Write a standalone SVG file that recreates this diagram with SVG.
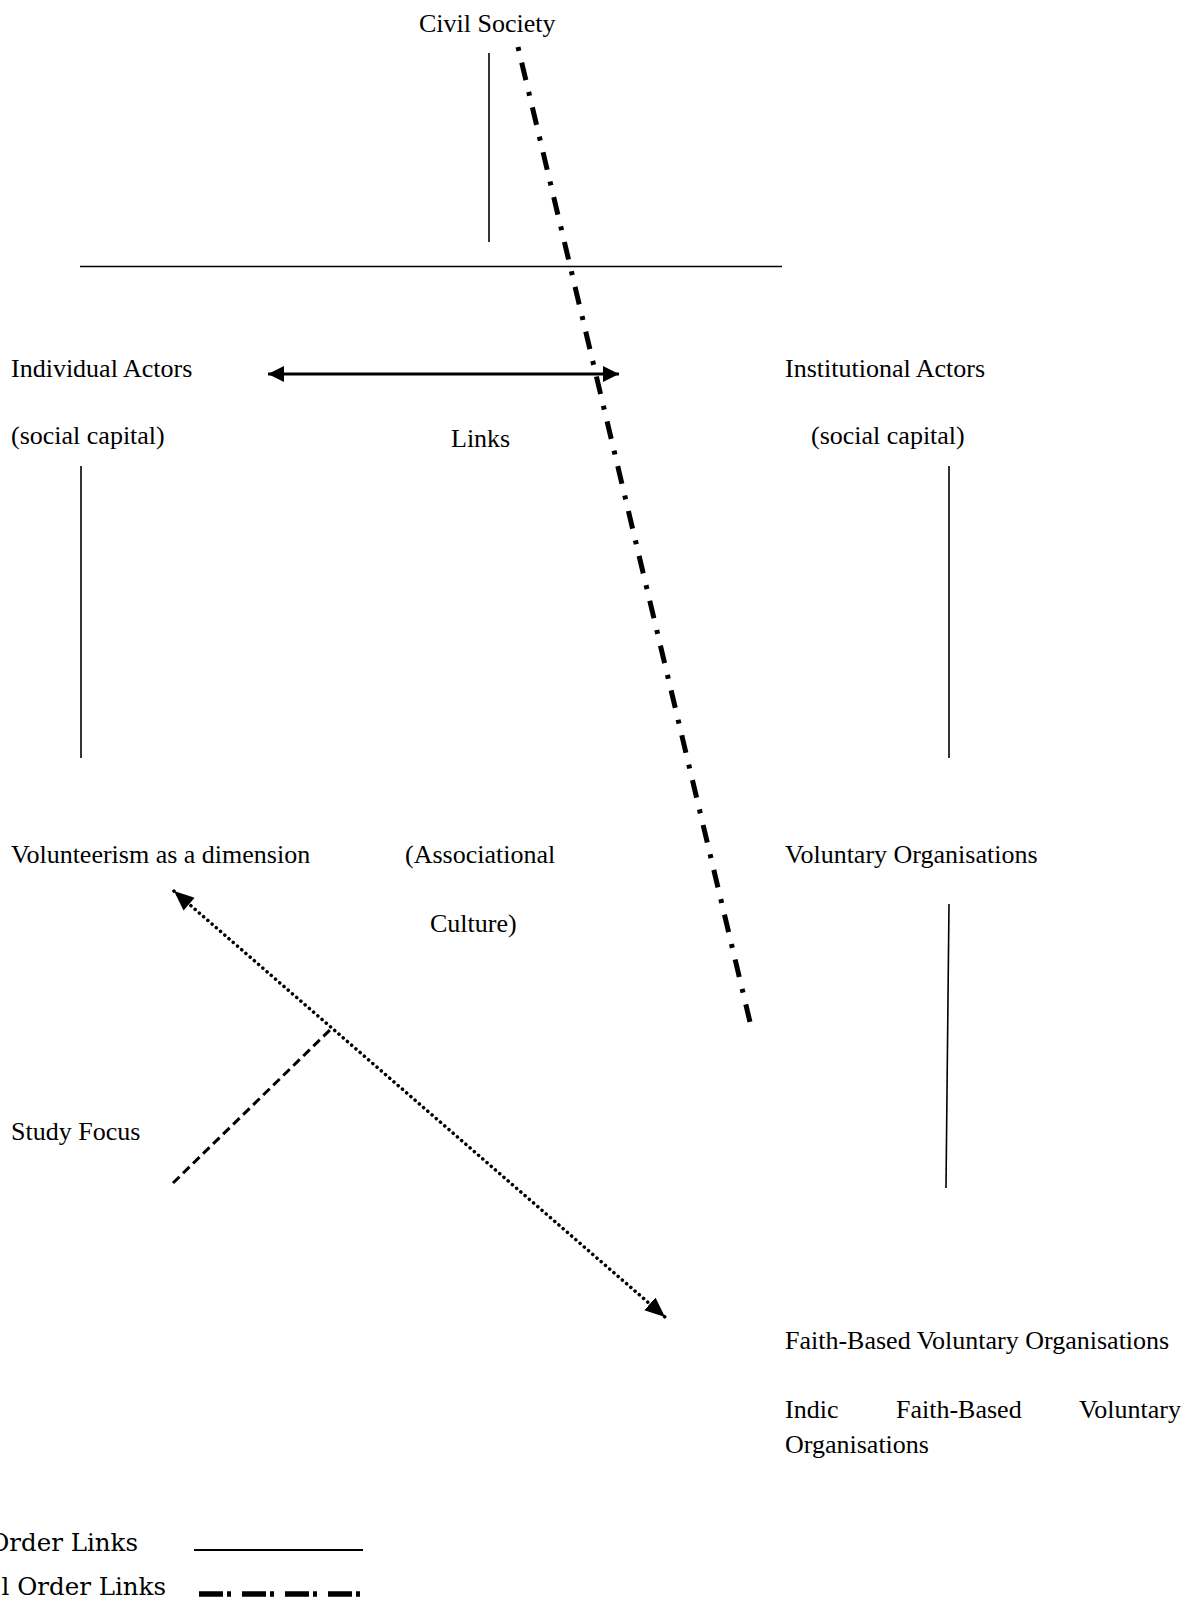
<svg xmlns="http://www.w3.org/2000/svg" width="1197" height="1602" viewBox="0 0 1197 1602">
<style>
  .t { font-family: "Liberation Serif", "Times New Roman", serif; font-size: 26px; fill: #000; }
  .lg { font-family: "DejaVu Serif", "Century Schoolbook", serif; font-size: 24.5px; fill: #000; }
  .solid { stroke: #000; stroke-width: 1.6; fill: none; }
  .dashdot { stroke: #000; stroke-width: 5; fill: none; stroke-dasharray: 4 12 18 12.1; }
  .dotted { stroke: #000; stroke-width: 3.5; fill: none; stroke-dasharray: 0.1 5.5; stroke-linecap: round; }
  .dashed { stroke: #000; stroke-width: 3; fill: none; stroke-dasharray: 9 5; }
</style>
<defs>
  <marker id="ahEnd" markerUnits="userSpaceOnUse" markerWidth="20" markerHeight="20" refX="16" refY="8" orient="auto">
    <path d="M0,0 L16,8 L0,16 Z" fill="#000"/>
  </marker>
  <marker id="ahStart" markerUnits="userSpaceOnUse" markerWidth="20" markerHeight="20" refX="0" refY="8" orient="auto">
    <path d="M16,0 L0,8 L16,16 Z" fill="#000"/>
  </marker>
  <marker id="bhEnd" markerUnits="userSpaceOnUse" markerWidth="22" markerHeight="20" refX="20" refY="8.5" orient="auto">
    <path d="M0,0 L20,8.5 L0,17 Z" fill="#000"/>
  </marker>
  <marker id="bhStart" markerUnits="userSpaceOnUse" markerWidth="22" markerHeight="20" refX="0" refY="8.5" orient="auto">
    <path d="M20,0 L0,8.5 L20,17 Z" fill="#000"/>
  </marker>
</defs>

<g id="connectors">
  <line class="solid" x1="489" y1="53" x2="489" y2="242"/>
  <line class="solid" x1="80" y1="266.5" x2="782" y2="266.5"/>
  <line x1="268" y1="374" x2="619" y2="374" stroke="#000" stroke-width="3.2" marker-start="url(#ahStart)" marker-end="url(#ahEnd)"/>
  <line class="solid" x1="81" y1="466" x2="81" y2="758"/>
  <line class="solid" x1="949" y1="466" x2="949" y2="758"/>
  <line class="solid" x1="949" y1="904" x2="946" y2="1188"/>
  <line class="dashdot" x1="518" y1="47" x2="750" y2="1022"/>
  <line class="dotted" x1="174" y1="891" x2="665" y2="1317" marker-start="url(#bhStart)" marker-end="url(#bhEnd)"/>
  <line class="dashed" x1="173" y1="1183" x2="332" y2="1028"/>
</g>

<g id="civil-society"><text class="t" x="419" y="32">Civil Society</text></g>
<g id="individual-actors">
  <text class="t" x="11" y="377">Individual Actors</text>
  <text class="t" x="11" y="444">(social capital)</text>
</g>
<g id="links"><text class="t" x="451" y="447">Links</text></g>
<g id="institutional-actors">
  <text class="t" x="785" y="377">Institutional Actors</text>
  <text class="t" x="811" y="444">(social capital)</text>
</g>
<g id="volunteerism"><text class="t" x="11" y="863">Volunteerism as a dimension</text></g>
<g id="associational-culture">
  <text class="t" x="405" y="863">(Associational</text>
  <text class="t" x="430" y="932">Culture)</text>
</g>
<g id="voluntary-organisations"><text class="t" x="785" y="863">Voluntary Organisations</text></g>
<g id="study-focus"><text class="t" x="11" y="1140">Study Focus</text></g>
<g id="faith-based"><text class="t" x="785" y="1349">Faith-Based Voluntary Organisations</text></g>
<g id="indic-faith-based">
  <text class="t" x="785" y="1418">Indic</text>
  <text class="t" x="896" y="1418">Faith-Based</text>
  <text class="t" x="1181" y="1418" text-anchor="end">Voluntary</text>
  <text class="t" x="785" y="1453">Organisations</text>
</g>

<g id="legend">
  <text class="lg" x="138" y="1551" text-anchor="end">Order Links</text>
  <line x1="194" y1="1550" x2="363" y2="1550" stroke="#000" stroke-width="2"/>
  <text class="lg" x="166" y="1595" text-anchor="end">l Order Links</text>
  <line x1="199" y1="1594" x2="363" y2="1594" stroke="#000" stroke-width="5.5" stroke-dasharray="24 4 4 11"/>
</g>
</svg>
